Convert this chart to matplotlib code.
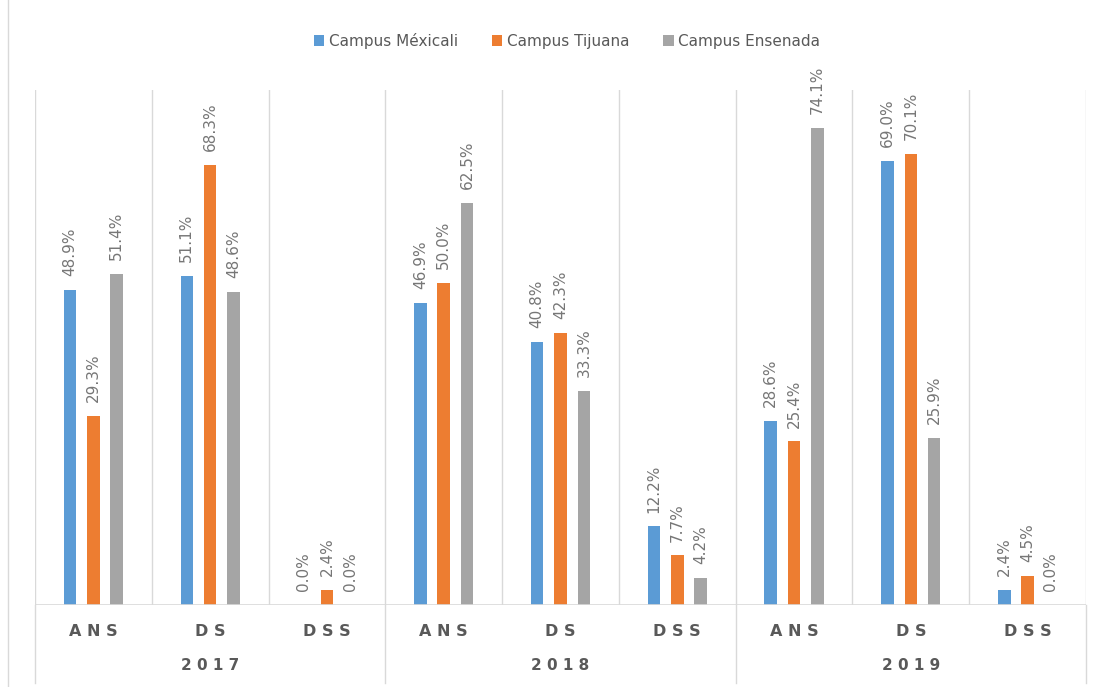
import numpy as np
import matplotlib.pyplot as plt
from matplotlib.lines import Line2D
from matplotlib.patches import Patch

YEARS = ['2017', '2018', '2019']
CATEGORIES = ['ANS', 'DS', 'DSS']
SERIES = ['Campus Méxicali', 'Campus Tijuana', 'Campus Ensenada']

MEXICALI = [48.9, 51.1, 0.0, 46.9, 40.8, 12.2, 28.6, 69.0, 2.4]
TIJUANA = [29.3, 68.3, 2.4, 50.0, 42.3, 7.7, 25.4, 70.1, 4.5]
ENSENADA = [51.4, 48.6, 0.0, 62.5, 33.3, 4.2, 74.1, 25.9, 0.0]

COLOURS = ['#5B9BD5', '#ED7D31', '#A5A5A5']
TEXT_GREY = '#595959'
LABEL_GREY = '#767676'
GRID_GREY = '#D9D9D9'

W, H = 1101, 687
fig = plt.figure(figsize=(W / 100, H / 100), dpi=100)
ax = fig.add_axes([35 / W, (H - 605) / H, (1086 - 35) / W, (605 - 90) / H])

n_cat = len(YEARS) * len(CATEGORIES)
x = np.arange(n_cat)
width = 0.107
step = 0.2

for i, (vals, colour) in enumerate(zip([MEXICALI, TIJUANA, ENSENADA], COLOURS)):
    pos = x + (i - 1) * step
    bars = ax.bar(pos, vals, width, color=colour)
    for b, v in zip(bars, vals):
        ax.annotate(f'{v:.1f}%', (b.get_x() + b.get_width() / 2, v),
                    xytext=(0, 10), textcoords='offset points',
                    rotation=90, ha='center', va='bottom',
                    fontsize=11, color=LABEL_GREY)

ax.set_xlim(-0.5, n_cat - 0.5)
ax.set_ylim(0, 80)
ax.set_xticks([])
ax.set_yticks([])
for s in ax.spines.values():
    s.set_visible(False)

# vertical gridlines at category boundaries
for b in np.arange(-0.5, n_cat, 1.0):
    ax.axvline(b, color=GRID_GREY, linewidth=1, zorder=0)
ax.axhline(0, color=GRID_GREY, linewidth=1.2, zorder=3)

# two-level category axis
trans = ax.get_xaxis_transform()
for k in range(n_cat):
    ax.text(k, -27 / 515, ' '.join(CATEGORIES[k % 3]), transform=trans,
            ha='center', va='center', fontsize=11.5, fontweight='bold',
            color=TEXT_GREY)
for g, yr in enumerate(YEARS):
    ax.text(g * 3 + 1, -60 / 515, ' '.join(yr), transform=trans,
            ha='center', va='center', fontsize=11, fontweight='bold',
            color=TEXT_GREY)
for b in [-0.5, 2.5, 5.5, 8.5]:
    ax.add_line(Line2D([b, b], [0, -78 / 515], transform=trans,
                       color=GRID_GREY, linewidth=1, clip_on=False))

# chart frame on the left
fig.add_artist(Line2D([8 / W, 8 / W], [0, 1], color=GRID_GREY, linewidth=1))

handles = [Patch(facecolor=c, edgecolor='none') for c in COLOURS]
leg = fig.legend(handles, SERIES, loc='center', ncol=3,
                 bbox_to_anchor=(567 / W, 1 - 41 / H), frameon=False,
                 fontsize=11, handlelength=0.7, handleheight=0.7,
                 handletextpad=0.3, columnspacing=2.2)
for t in leg.get_texts():
    t.set_color(TEXT_GREY)

fig.savefig('out.png', dpi=100)
